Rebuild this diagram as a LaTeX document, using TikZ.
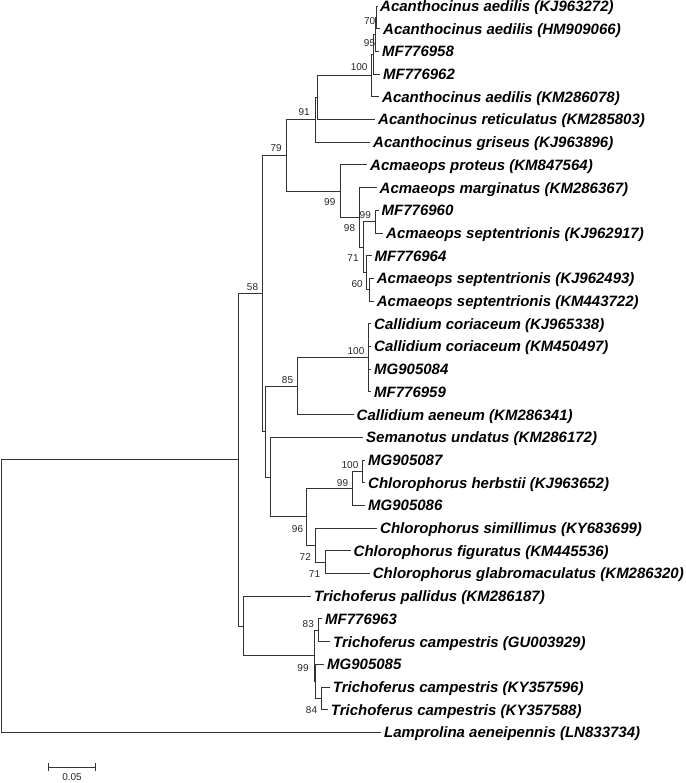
\documentclass[tikz,border=0pt]{standalone}
\usepackage{fontspec}
\setmainfont{Liberation Sans}
\usetikzlibrary{arrows.meta}

\begin{document}
\begin{tikzpicture}[x=1pt,y=-1pt,
  branch/.style={draw=black!80,line width=0.9pt},
  taxon/.style={anchor=west,inner xsep=3pt,inner ysep=0pt,text height=10.9pt,text depth=0pt,font=\fontsize{15}{18}\selectfont\bfseries\itshape},
  boot/.style={inner sep=0pt,font=\fontsize{10}{12}\selectfont,text=black!85}]
\useasboundingbox (0,0) rectangle (685,783);

% taxa
\node[taxon] (kj963272) at (377,6) {Acanthocinus aedilis (KJ963272)};
\node[taxon] (hm909066) at (380,28.7) {Acanthocinus aedilis (HM909066)};
\node[taxon] (mf776958) at (379,51.4) {MF776958};
\node[taxon] (mf776962) at (380,74.1) {MF776962};
\node[taxon] (km286078) at (379,96.8) {Acanthocinus aedilis (KM286078)};
\node[taxon] (km285803) at (375,119.5) {Acanthocinus reticulatus (KM285803)};
\node[taxon] (kj963896) at (370,142.2) {Acanthocinus griseus (KJ963896)};
\node[taxon] (km847564) at (367,164.9) {Acmaeops proteus (KM847564)};
\node[taxon] (km286367) at (376.5,187.6) {Acmaeops marginatus (KM286367)};
\node[taxon] (mf776960) at (378.5,210.3) {MF776960};
\node[taxon] (kj962917) at (383,233) {Acmaeops septentrionis (KJ962917)};
\node[taxon] (mf776964) at (371.5,255.7) {MF776964};
\node[taxon] (kj962493) at (373.7,278.4) {Acmaeops septentrionis (KJ962493)};
\node[taxon] (km443722) at (373.7,301.1) {Acmaeops septentrionis (KM443722)};
\node[taxon] (kj965338) at (371,323.8) {Callidium coriaceum (KJ965338)};
\node[taxon] (km450497) at (371,346.5) {Callidium coriaceum (KM450497)};
\node[taxon] (mg905084) at (371,369.2) {MG905084};
\node[taxon] (mf776959) at (371,391.9) {MF776959};
\node[taxon] (km286341) at (353.5,414.6) {Callidium aeneum (KM286341)};
\node[taxon] (km286172) at (363,437.3) {Semanotus undatus (KM286172)};
\node[taxon] (mg905087) at (365,460) {MG905087};
\node[taxon] (kj963652) at (365,482.7) {Chlorophorus herbstii (KJ963652)};
\node[taxon] (mg905086) at (365,505.4) {MG905086};
\node[taxon] (ky683699) at (377,528.1) {Chlorophorus simillimus (KY683699)};
\node[taxon] (km445536) at (350.5,550.8) {Chlorophorus figuratus (KM445536)};
\node[taxon] (km286320) at (369.7,573.5) {Chlorophorus glabromaculatus (KM286320)};
\node[taxon] (km286187) at (311,596.2) {Trichoferus pallidus (KM286187)};
\node[taxon] (mf776963) at (322,618.9) {MF776963};
\node[taxon] (gu003929) at (330,641.6) {Trichoferus campestris (GU003929)};
\node[taxon] (mg905085) at (324,664.3) {MG905085};
\node[taxon] (ky357596) at (329.7,687) {Trichoferus campestris (KY357596)};
\node[taxon] (ky357588) at (327.7,709.7) {Trichoferus campestris (KY357588)};
\node[taxon] (ln833734) at (381,732.4) {Lamprolina aeneipennis (LN833734)};

% internal nodes
\coordinate (n1) at (376.5,17.4);
\coordinate (n2) at (375.5,34.4);
\coordinate (n3) at (373.5,54.2);
\coordinate (n4) at (371,75.5);
\coordinate (n5) at (317.3,97.5);
\coordinate (n6) at (315,119.9);
\coordinate (n7) at (375.5,221.7);
\coordinate (n8) at (369.5,289.8);
\coordinate (n9) at (366.5,272.7);
\coordinate (n10) at (363.3,247.2);
\coordinate (n11) at (359.3,217.4);
\coordinate (n12) at (340,191.2);
\coordinate (n13) at (286.7,155.5);
\coordinate (n14) at (368.3,357.9);
\coordinate (n15) at (297.3,386.2);
\coordinate (n16) at (362.7,471.3);
\coordinate (n17) at (352.3,488.4);
\coordinate (n18) at (325,562.2);
\coordinate (n19) at (315,545.1);
\coordinate (n20) at (306.7,516.8);
\coordinate (n21) at (270,477);
\coordinate (n22) at (265,431.6);
\coordinate (n23) at (262.7,293.5);
\coordinate (n24) at (318.3,630.2);
\coordinate (n25) at (321.5,698.3);
\coordinate (n26) at (315.8,681.3);
\coordinate (n27) at (314,655.8);
\coordinate (n28) at (243.3,626);
\coordinate (n29) at (238.3,459.8);
\coordinate (root) at (1,596.1);

% branches
\draw[branch] (n1) |- (kj963272.west) (n1) |- (hm909066.west);
\draw[branch] (n2) |- (n1) (n2) |- (mf776958.west);
\draw[branch] (n3) |- (n2) (n3) |- (mf776962.west);
\draw[branch] (n4) |- (n3) (n4) |- (km286078.west);
\draw[branch] (n5) |- (n4) (n5) |- (km285803.west);
\draw[branch] (n6) |- (n5) (n6) |- (kj963896.west);
\draw[branch] (n7) |- (mf776960.west) (n7) |- (kj962917.west);
\draw[branch] (n8) |- (kj962493.west) (n8) |- (km443722.west);
\draw[branch] (n9) |- (mf776964.west) (n9) |- (n8);
\draw[branch] (n10) |- (n7) (n10) |- (n9);
\draw[branch] (n11) |- (km286367.west) (n11) |- (n10);
\draw[branch] (n12) |- (km847564.west) (n12) |- (n11);
\draw[branch] (n13) |- (n6) (n13) |- (n12);
\draw[branch] (n14) |- (kj965338.west) (n14) |- (km450497.west) (n14) |- (mg905084.west) (n14) |- (mf776959.west);
\draw[branch] (n15) |- (n14) (n15) |- (km286341.west);
\draw[branch] (n16) |- (mg905087.west) (n16) |- (kj963652.west);
\draw[branch] (n17) |- (n16) (n17) |- (mg905086.west);
\draw[branch] (n18) |- (km445536.west) (n18) |- (km286320.west);
\draw[branch] (n19) |- (ky683699.west) (n19) |- (n18);
\draw[branch] (n20) |- (n17) (n20) |- (n19);
\draw[branch] (n21) |- (km286172.west) (n21) |- (n20);
\draw[branch] (n22) |- (n15) (n22) |- (n21);
\draw[branch] (n23) |- (n13) (n23) |- (n22);
\draw[branch] (n24) |- (mf776963.west) (n24) |- (gu003929.west);
\draw[branch] (n25) |- (ky357596.west) (n25) |- (ky357588.west);
\draw[branch] (n26) |- (mg905085.west) (n26) |- (n25);
\draw[branch] (n27) |- (n24) (n27) |- (n26);
\draw[branch] (n28) |- (km286187.west) (n28) |- (n27);
\draw[branch] (n29) |- (n23) (n29) |- (n28);
\draw[branch] (root) |- (n29) (root) |- (ln833734.west);

% bootstrap values
\node[boot] (b70) at (369.7,21.5) {70};
\node[boot] (b95) at (369.5,43.5) {95};
\node[boot] (b100a) at (359.2,66.8) {100};
\node[boot] (b91) at (304.2,112.5) {91};
\node[boot] (b79) at (276.2,148.5) {79};
\node[boot] (b99a) at (329.8,202) {99};
\node[boot] (b98) at (349.5,228.5) {98};
\node[boot] (b99b) at (365.3,215) {99};
\node[boot] (b71a) at (353,258.5) {71};
\node[boot] (b60) at (357.2,283.7) {60};
\node[boot] (b58) at (252.5,287) {58};
\node[boot] (b100b) at (356,351.5) {100};
\node[boot] (b85) at (287.5,380.3) {85};
\node[boot] (b100c) at (350,465.3) {100};
\node[boot] (b99c) at (342.5,482.8) {99};
\node[boot] (b96) at (297.5,528.8) {96};
\node[boot] (b72) at (305.3,556.8) {72};
\node[boot] (b71b) at (314.5,573.8) {71};
\node[boot] (b83) at (308.3,623.7) {83};
\node[boot] (b99d) at (303,668) {99};
\node[boot] (b84) at (311.5,710.3) {84};

% scale bar
\coordinate (sbl) at (48,767);
\coordinate (sbr) at (96,767);
\draw[branch,{Bar[width=8pt]}-{Bar[width=8pt]}] (sbl) -- (sbr);
\node[boot] (sblabel) at (72,777.5) {0.05};
\end{tikzpicture}
\end{document}
